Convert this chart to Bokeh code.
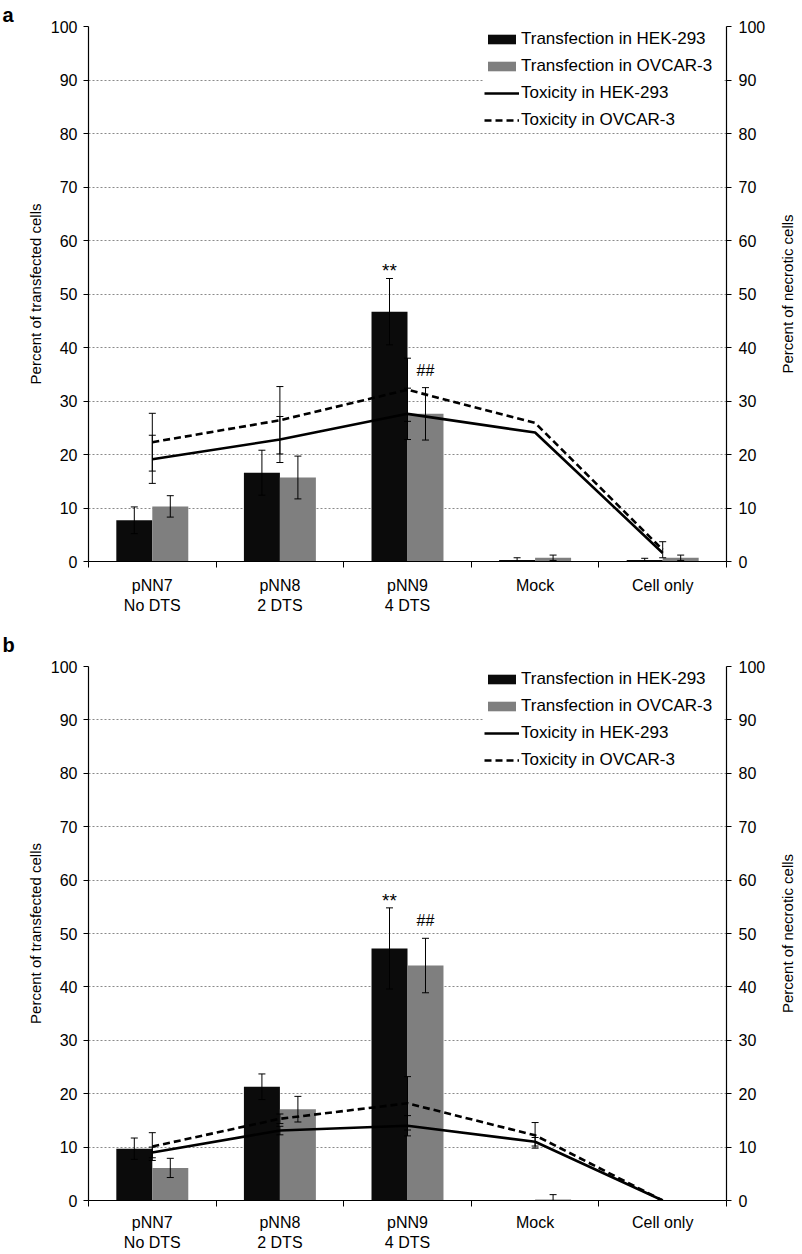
import numpy as np
from math import pi
from bokeh.plotting import figure
from bokeh.layouts import column, row
from bokeh.models import (ColumnDataSource, LinearAxis, FixedTicker, Whisker, TeeHead,
                          Legend, LegendItem, Range1d)
from bokeh.core.properties import value
from bokeh.embed import file_html
from bokeh.resources import INLINE

# ---------------- data ----------------
categories = ["pNN7\nNo DTS", "pNN8\n2 DTS", "pNN9\n4 DTS", "Mock", "Cell only"]
y_ticks = [0, 10, 20, 30, 40, 50, 60, 70, 80, 90, 100]
series_names = ["Transfection in HEK-293", "Transfection in OVCAR-3",
                "Toxicity in HEK-293", "Toxicity in OVCAR-3"]
left_title = "Percent of transfected cells"
right_title = "Percent of necrotic cells"

# panel a
a_trans_hek = [7.7, 16.6, 46.7, 0.3, 0.3]
a_trans_hek_err = [2.5, 4.2, 6.2, 0.4, 0.3]
a_trans_ovcar = [10.3, 15.7, 27.6, 0.7, 0.7]
a_trans_ovcar_err = [2.0, 4.0, 4.9, 0.5, 0.5]
a_tox_hek = [19.1, 22.8, 27.6, 24.1, 1.6]
a_tox_hek_err = [4.5, 4.3, 4.8, 0.0, 0.0]
a_tox_ovcar = [22.3, 26.4, 32.1, 25.9, 2.2]
a_tox_ovcar_err = [5.4, 6.3, 5.9, 0.0, 1.5]

# panel b
b_trans_hek = [9.7, 21.3, 47.2, 0.1, 0.0]
b_trans_hek_err = [2.0, 2.4, 7.6, 0.0, 0.0]
b_trans_ovcar = [6.1, 17.1, 44.0, 0.2, 0.0]
b_trans_ovcar_err = [1.8, 2.4, 5.1, 0.9, 0.0]
b_tox_hek = [9.0, 13.1, 14.0, 11.0, 0.0]
b_tox_hek_err = [1.0, 0.8, 1.9, 0.8, 0.0]
b_tox_ovcar = [10.1, 15.3, 18.2, 12.2, 0.0]
b_tox_ovcar_err = [2.6, 0.9, 5.0, 2.4, 0.0]

hek_mark = "**"
ovcar_mark = "##"
mark_index = 2  # pNN9

FONT = "Liberation Sans"
BLACK = "#0b0b0b"
GRAY = "#7f7f7f"
FRAME_W = 638
L_BORDER, R_BORDER = 88, 44
STRIP_W = 30


def whisker(p, xs, mid, err):
    idx = [i for i, e in enumerate(err) if e > 0]
    src = ColumnDataSource(dict(
        x=[xs[i] for i in idx],
        upper=[mid[i] + err[i] for i in idx],
        lower=[mid[i] - err[i] for i in idx]))
    w = Whisker(source=src, base="x", upper="upper", lower="lower",
                line_color="black", line_width=1,
                upper_head=TeeHead(size=7, line_color="black", line_width=1),
                lower_head=TeeHead(size=7, line_color="black", line_width=1))
    w.level = "annotation"
    p.add_layout(w)


def title_strip(frame_h, top_b, bottom_b):
    s = figure(frame_width=STRIP_W, frame_height=frame_h,
               x_range=Range1d(0, STRIP_W), y_range=Range1d(0, 100),
               output_backend="svg", toolbar_location=None,
               x_axis_location=None, y_axis_location=None,
               min_border_left=0, min_border_right=0,
               min_border_top=top_b, min_border_bottom=bottom_b)
    s.outline_line_color = None
    s.xgrid.visible = False
    s.ygrid.visible = False
    s.text(x=[17], y=[50], text=[right_title], angle=pi / 2,
           text_align="center", text_baseline="middle",
           text_font=value(FONT), text_font_size="15px", text_color="black")
    return s


def make_panel(letter, hek, hek_err, ov, ov_err, thek, thek_err, tov, tov_err,
               frame_h, top_b, bottom_b, letter_standoff, cat_standoff):
    n = len(categories)
    centers = np.arange(n) + 0.5
    bw = 0.282
    p = figure(frame_width=FRAME_W, frame_height=frame_h,
               x_range=Range1d(0, n), y_range=Range1d(0, 100),
               output_backend="svg", toolbar_location=None,
               min_border_left=L_BORDER, min_border_right=R_BORDER,
               min_border_top=top_b, min_border_bottom=bottom_b)
    p.outline_line_color = None
    p.background_fill_color = "white"
    p.border_fill_color = "white"

    # panel letter as title
    p.title.text = letter
    p.title.align = "left"
    p.title.offset = -(L_BORDER - 2)
    p.title.text_font = FONT
    p.title.text_font_size = "20px"
    p.title.text_font_style = "bold"
    p.title.text_color = "black"
    p.title.standoff = letter_standoff

    # grid
    p.xgrid.visible = False
    p.ygrid.ticker = FixedTicker(ticks=y_ticks)
    p.ygrid.grid_line_color = "#8a8a8a"
    p.ygrid.grid_line_dash = "2 2"
    p.ygrid.grid_line_width = 1

    # left axis
    yax = p.yaxis[0]
    yax.ticker = FixedTicker(ticks=y_ticks)
    yax.axis_label = left_title
    yax.axis_label_standoff = 4
    yax.axis_label_text_font = FONT
    yax.axis_label_text_font_size = "15px"
    yax.axis_label_text_font_style = "normal"
    yax.axis_label_text_color = "black"
    # right axis
    rax = LinearAxis(ticker=FixedTicker(ticks=y_ticks))
    p.add_layout(rax, "right")
    for ax in (yax, rax):
        ax.major_label_text_font = FONT
        ax.major_label_text_font_size = "16px"
        ax.major_label_text_color = "black"
        ax.axis_line_color = "black"
        ax.axis_line_width = 1.2
        ax.major_tick_line_color = "black"
        ax.major_tick_out = 5
        ax.major_tick_in = 0
        ax.minor_tick_line_color = None
    yax.major_label_standoff = 6
    rax.major_label_standoff = 7

    # bottom axis
    xax = p.xaxis[0]
    xax.ticker = FixedTicker(ticks=list(centers), minor_ticks=list(range(n + 1)))
    xax.major_label_overrides = {float(c): lab for c, lab in zip(centers, categories)}
    xax.major_label_text_font = FONT
    xax.major_label_text_font_size = "16px"
    xax.major_label_text_color = "black"
    xax.major_label_standoff = cat_standoff
    xax.major_tick_line_color = None
    xax.major_tick_out = 0
    xax.major_tick_in = 0
    xax.minor_tick_line_color = "black"
    xax.minor_tick_out = 6
    xax.minor_tick_in = 0
    xax.axis_line_color = "black"
    xax.axis_line_width = 1.2

    # bars
    r_hek = p.vbar(x=centers - bw / 2, top=hek, width=bw, fill_color=BLACK, line_color=None)
    r_ov = p.vbar(x=centers + bw / 2, top=ov, width=bw, fill_color=GRAY, line_color=None)
    whisker(p, list(centers - bw / 2), hek, hek_err)
    whisker(p, list(centers + bw / 2), ov, ov_err)

    # toxicity lines
    r_th = p.line(centers, thek, line_color="black", line_width=2.6)
    r_to = p.line(centers, tov, line_color="black", line_width=2.6, line_dash="7 4")
    whisker(p, list(centers), thek, thek_err)
    whisker(p, list(centers), tov, tov_err)

    # significance marks
    i = mark_index
    p.text(x=[centers[i] - bw / 2], y=[hek[i] + hek_err[i]], text=[hek_mark],
           text_align="center", text_baseline="bottom", y_offset=3,
           text_font=value(FONT), text_font_size="19px", text_color="black")
    p.text(x=[centers[i] + bw / 2], y=[ov[i] + ov_err[i]], text=[ovcar_mark],
           text_align="center", text_baseline="bottom", y_offset=-9,
           text_font=value(FONT), text_font_size="16px", text_color="black")

    # legend
    legend = Legend(items=[
        LegendItem(label=series_names[0], renderers=[r_hek]),
        LegendItem(label=series_names[1], renderers=[r_ov]),
        LegendItem(label=series_names[2], renderers=[r_th]),
        LegendItem(label=series_names[3], renderers=[r_to]),
    ], location="top_right")
    legend.margin = 3
    legend.padding = 4
    legend.spacing = 7
    legend.border_line_color = None
    legend.background_fill_color = "white"
    legend.background_fill_alpha = 1.0
    legend.label_text_font = FONT
    legend.label_text_font_size = "17px"
    legend.label_text_color = "black"
    legend.glyph_width = 35
    legend.glyph_height = 12
    legend.label_height = 20
    legend.label_standoff = 2
    legend.label_width = 202
    p.add_layout(legend)
    return row(p, title_strip(frame_h, top_b, bottom_b), spacing=0)


pa = make_panel("a", a_trans_hek, a_trans_hek_err, a_trans_ovcar, a_trans_ovcar_err,
                a_tox_hek, a_tox_hek_err, a_tox_ovcar, a_tox_ovcar_err,
                frame_h=535, top_b=26, bottom_b=59, letter_standoff=1, cat_standoff=9)
pb = make_panel("b", b_trans_hek, b_trans_hek_err, b_trans_ovcar, b_trans_ovcar_err,
                b_tox_hek, b_tox_hek_err, b_tox_ovcar, b_tox_ovcar_err,
                frame_h=534, top_b=46, bottom_b=50, letter_standoff=21, cat_standoff=7)

layout = column(pa, pb, spacing=0)
open("out.html", "w").write(file_html(layout, INLINE))
